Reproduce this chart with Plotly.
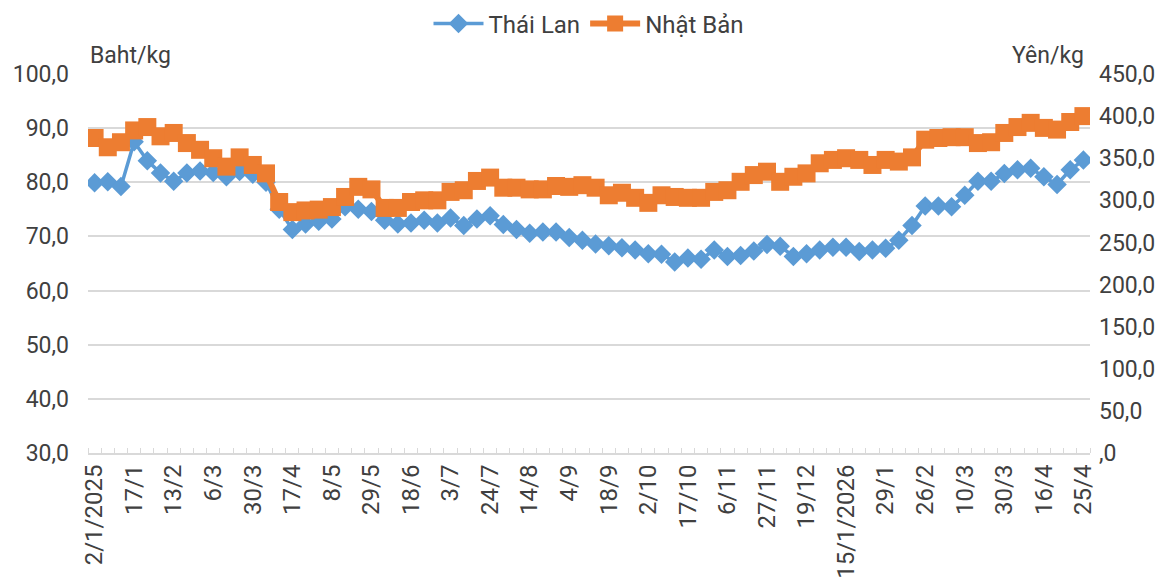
import plotly.graph_objects as go

tick_labels = ["2/1/2025", "17/1", "13/2", "6/3", "30/3", "17/4", "8/5", "29/5", "18/6",
               "3/7", "24/7", "14/8", "4/9", "18/9", "2/10", "17/10", "6/11", "27/11",
               "19/12", "15/1/2026", "29/1", "26/2", "10/3", "30/3", "16/4", "25/4"]

thai_lan = [79.9, 80.1, 79.2, 87.5, 84.0, 81.7, 80.2, 81.7, 82.1, 81.8,
            81.0, 82.0, 81.5, 80.0, 75.0, 71.3, 72.3, 72.8, 73.2, 75.5,
            75.0, 74.6, 73.0, 72.3, 72.5, 73.0, 72.5, 73.4, 72.0, 73.2,
            73.8, 72.2, 71.3, 70.6, 70.8, 70.8, 69.8, 69.3, 68.6, 68.3,
            67.9, 67.5, 66.8, 66.7, 65.3, 66.0, 65.8, 67.5, 66.3, 66.5,
            67.3, 68.5, 68.2, 66.3, 66.8, 67.5, 68.0, 68.0, 67.2, 67.5,
            67.8, 69.3, 72.0, 75.6, 75.6, 75.5, 77.6, 80.2, 80.2, 81.6,
            82.3, 82.6, 81.0, 79.6, 82.3, 84.1]

nhat_ban = [374, 363, 369, 383, 387, 376, 380, 368, 360, 350,
            340, 351, 342, 332, 298, 286, 288, 289, 292, 304,
            316, 313, 291, 291, 298, 300, 300, 310, 312, 323,
            327, 315, 315, 313, 313, 317, 316, 318, 315, 306,
            309, 303, 297, 306, 304, 303, 303, 310, 312, 322,
            330, 334, 322, 328, 332, 344, 348, 350, 348, 342,
            348, 346, 351, 372, 374, 375, 375, 368, 369, 380,
            387, 392, 386, 384, 393, 400]

n = len(thai_lan)
x = list(range(n))
label_pos = [3 * i for i in range(len(tick_labels))]

left_vals = list(range(30, 101, 10))
left_text = [f"{v},0" for v in left_vals]
right_vals = list(range(0, 451, 50))
right_text = [(f"{v},0" if v else ",0") for v in right_vals]

txt = "#404040"
font = "Roboto, Arial, sans-serif"
fs = 23

fig = go.Figure()
fig.add_trace(go.Scatter(
    x=x, y=thai_lan, name="Thái Lan", mode="lines+markers",
    line=dict(color="#5B9BD5", width=3.5),
    marker=dict(symbol="diamond", size=15, color="#5B9BD5"),
    yaxis="y"))
fig.add_trace(go.Scatter(
    x=x, y=nhat_ban, name="Nhật Bản", mode="lines+markers",
    line=dict(color="#ED7D31", width=6),
    marker=dict(symbol="square", size=18, color="#ED7D31"),
    yaxis="y2"))

fig.update_layout(
    width=1176, height=583,
    margin=dict(l=80, r=94, t=66, b=138, autoexpand=False),
    paper_bgcolor="white", plot_bgcolor="white",
    font=dict(family=font, size=fs, color=txt),
    showlegend=True,
    legend=dict(orientation="h", x=0.5, xanchor="center", y=1 - 16 / 583, yanchor="middle",
                yref="container", font=dict(size=24, color=txt), itemwidth=50),
    xaxis=dict(range=[-0.5, n - 0.5], tickmode="array", tickvals=label_pos,
               ticktext=tick_labels, tickangle=-90, ticks="", showgrid=False,
               showline=True, linecolor="#d9d9d9", linewidth=2, zeroline=False,
               tickfont=dict(size=24, color=txt), ticklabelstandoff=0,
               minor=dict(ticks="inside", tick0=-0.5, dtick=1, ticklen=5,
                          tickcolor="#d9d9d9", tickwidth=1, showgrid=False)),
    yaxis=dict(range=[30, 100], tickmode="array", tickvals=left_vals, ticktext=left_text,
               showgrid=True, gridcolor="#d9d9d9", gridwidth=2, zeroline=False,
               showline=False, ticks="", tickfont=dict(size=fs, color=txt),
               ticklabelstandoff=18),
    yaxis2=dict(range=[0, 450], tickmode="array", tickvals=right_vals, ticktext=right_text,
                overlaying="y", side="right", showgrid=False, zeroline=False,
                showline=False, ticks="", tickfont=dict(size=fs, color=txt),
                ticklabelstandoff=8),
    annotations=[
        dict(text="Baht/kg", xref="paper", yref="paper", x=0, y=1, xanchor="left",
             yanchor="bottom", showarrow=False, font=dict(size=fs, color=txt), yshift=3),
        dict(text="Yên/kg", xref="paper", yref="paper", x=1, y=1, xanchor="right",
             yanchor="bottom", showarrow=False, font=dict(size=fs, color=txt), yshift=3,
             xshift=-4),
    ],
)

fig.write_html("out.html")
